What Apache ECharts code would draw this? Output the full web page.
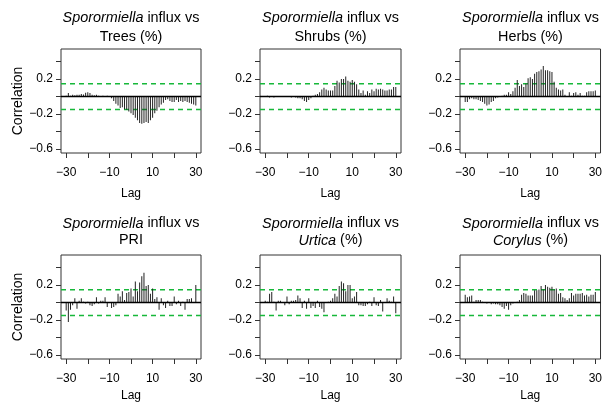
<!DOCTYPE html>
<html>
<head>
<meta charset="utf-8">
<script src="https://cdn.jsdelivr.net/npm/echarts@6/dist/echarts.min.js"></script>
<style>html,body{margin:0;padding:0;background:#fff}#c{width:605px;height:403px}</style>
</head>
<body>
<div id="c"></div>
<script>
const lags = [-30,-29,-28,-27,-26,-25,-24,-23,-22,-21,-20,-19,-18,-17,-16,-15,-14,-13,-12,-11,-10,-9,-8,-7,-6,-5,-4,-3,-2,-1,0,1,2,3,4,5,6,7,8,9,10,11,12,13,14,15,16,17,18,19,20,21,22,23,24,25,26,27,28,29,30];

const trees = [0.01,0.04,0.01,0.02,0.015,0.02,0.02,0.03,0.025,0.045,0.05,0.04,0.02,0.015,0.02,0.01,0.005,0.01,0.005,0.01,0.005,
  -0.02,-0.05,-0.08,-0.10,-0.13,-0.12,-0.145,-0.15,-0.17,-0.19,-0.21,-0.24,-0.27,-0.30,-0.31,-0.30,-0.29,-0.30,-0.27,-0.24,
  -0.19,-0.16,-0.12,-0.09,-0.07,-0.04,-0.03,-0.05,-0.06,-0.06,-0.04,-0.06,-0.05,-0.06,-0.05,-0.06,-0.07,-0.08,-0.09,-0.10];

const shrubs = [0.005,0.01,-0.01,0.005,-0.01,-0.005,0.0,0.005,-0.005,0.0,0.005,0.0,-0.01,0.0,-0.01,-0.02,-0.02,-0.03,-0.05,-0.06,-0.04,
  -0.02,0.01,0.02,0.03,0.05,0.08,0.10,0.08,0.07,0.07,0.07,0.12,0.18,0.16,0.20,0.20,0.23,0.18,0.17,0.19,
  0.17,0.14,0.08,0.04,0.07,0.02,0.06,0.04,0.08,0.06,0.09,0.08,0.09,0.08,0.07,0.07,0.08,0.08,0.11,0.11];

const herbs = [-0.06,-0.06,-0.03,-0.02,-0.03,-0.03,-0.04,-0.05,-0.06,-0.08,-0.10,-0.09,-0.06,-0.05,-0.02,-0.01,0.005,0.01,0.02,0.02,0.05,
  0.03,0.06,0.10,0.19,0.12,0.14,0.11,0.15,0.21,0.22,0.20,0.26,0.28,0.29,0.31,0.35,0.30,0.30,0.29,0.28,
  0.17,0.10,0.08,0.07,0.08,0.02,0.0,0.05,0.01,0.04,0.05,0.02,0.04,0.01,0.01,0.05,0.06,0.06,0.06,0.07];

const pri = [-0.09,-0.22,-0.08,-0.03,0.05,-0.07,0.02,0.05,0.01,-0.01,0.01,-0.03,-0.04,-0.02,0.06,-0.01,0.02,0.02,0.06,-0.05,0.0,
  -0.06,-0.05,-0.03,0.10,0.07,0.13,0.03,0.11,0.12,0.16,0.07,0.24,0.13,0.23,0.30,0.34,0.19,0.20,0.10,0.16,
  0.04,0.06,-0.08,0.05,-0.03,-0.06,0.02,-0.04,-0.04,0.07,-0.02,0.02,-0.04,0.01,-0.08,0.04,0.04,0.05,0.0,0.20];

const urtica = [0.02,0.01,0.10,0.12,0.01,-0.09,0.02,0.02,0.0,-0.03,0.07,-0.02,0.02,0.02,0.03,0.08,0.05,-0.06,0.02,-0.07,0.05,
  -0.06,-0.04,-0.06,0.02,-0.05,-0.07,-0.11,0.0,0.01,0.02,0.05,0.10,0.07,0.19,0.24,0.22,0.13,0.20,0.20,0.05,
  0.07,0.12,-0.03,-0.03,-0.04,-0.04,-0.02,0.01,-0.04,0.06,-0.03,-0.04,0.03,-0.10,0.0,0.05,0.02,0.01,0.07,-0.12];

const corylus = [0.09,0.06,0.07,0.08,0.01,0.03,0.03,0.03,0.01,0.0,-0.01,0.0,-0.02,-0.01,-0.02,-0.02,-0.03,-0.05,-0.07,-0.04,-0.08,
  -0.03,-0.01,0.0,0.01,0.03,0.09,0.11,0.10,0.08,0.08,0.08,0.14,0.14,0.15,0.19,0.15,0.20,0.18,0.17,0.18,
  0.15,0.16,0.10,0.11,0.06,0.05,0.03,0.05,0.11,0.08,0.10,0.10,0.10,0.11,0.08,0.09,0.07,0.09,0.09,0.12];

const ciLimit = 0.147;
const xTicks = [-30,-20,-10,0,10,20,30];
const xLabels = [-30,-10,10,30];
const yTicks = [-0.6,-0.4,-0.2,0,0.2,0.4];
const yLabels = [-0.6,-0.2,0.2];

const panels = [
  {data: trees,   line2: 'Trees (%)'},
  {data: shrubs,  line2: 'Shrubs (%)'},
  {data: herbs,   line2: 'Herbs (%)'},
  {data: pri,     line2: 'PRI'},
  {data: urtica,  line2: '{i|Urtica} (%)'},
  {data: corylus, line2: '{i|Corylus} (%)'}
];

const colLeft = [61, 260, 460];
const colWidth = [140, 141, 141];
const rowTop = [49, 255];
const gridH = 104;
const titleY = [[18.3, 37.3], [223.5, 240.5]];
const lagGap = [35, 31];
const xMin = -32.4, xMax = 32.4;

const fontFamily = 'Liberation Sans, Arial, sans-serif';
const minus = v => String(v).replace('-', '\u2212');

const grids = [], xAxes = [], yAxes = [], series = [], graphics = [];
panels.forEach((p, i) => {
  const r = Math.floor(i / 3), c = i % 3;
  grids.push({left: colLeft[c], top: rowTop[r], width: colWidth[c], height: gridH,
    show: true, borderColor: '#333', borderWidth: 1, backgroundColor: 'transparent'});
  xAxes.push({type: 'value', gridIndex: i, min: xMin, max: xMax, position: 'bottom',
    axisLine: {show: false, onZero: false},
    splitLine: {show: false},
    axisTick: {show: true, customValues: xTicks, length: 5, inside: false, lineStyle: {color: '#333'}},
    axisLabel: {show: true, customValues: xLabels, formatter: minus, margin: 14,
      fontSize: 12, color: '#000', fontFamily: fontFamily},
    name: 'Lag', nameLocation: 'middle', nameGap: lagGap[r],
    nameTextStyle: {fontSize: 12, color: '#000', fontFamily: fontFamily}
  });
  yAxes.push({type: 'value', gridIndex: i, min: -0.644, max: 0.544, position: 'left',
    axisLine: {show: false, onZero: false},
    splitLine: {show: false},
    axisTick: {show: true, customValues: yTicks, length: 5, inside: false, lineStyle: {color: '#333'}},
    axisLabel: {show: true, customValues: yLabels, formatter: minus, margin: 8,
      fontSize: 12, color: '#000', fontFamily: fontFamily},
    name: c === 0 ? 'Correlation' : '', nameLocation: 'middle', nameGap: 36,
    nameTextStyle: {fontSize: 14, color: '#000', fontFamily: fontFamily}
  });
  [ciLimit, -ciLimit].forEach(v => {
    series.push({type: 'line', xAxisIndex: i, yAxisIndex: i, silent: true, animation: false,
      symbol: 'none', data: [[xMin, v], [xMax, v]], z: 1,
      lineStyle: {color: '#17b83a', width: 1.6, type: [5, 4]}});
  });
  series.push({type: 'bar', xAxisIndex: i, yAxisIndex: i, barWidth: 1,
    data: lags.map((l, k) => [l, p.data[k]]),
    itemStyle: {color: '#222'},
    silent: true, animation: false, z: 2,
    markLine: {silent: true, symbol: 'none', animation: false, label: {show: false},
      lineStyle: {color: '#000', width: 1.3, type: 'solid'},
      data: [{yAxis: 0}]}
  });
  const cx = colLeft[c] + colWidth[c] / 2;
  graphics.push({type: 'text', x: cx, y: titleY[r][0], style: {
    text: '{i|Sporormiella} influx vs', align: 'center', verticalAlign: 'middle',
    fontSize: 14.4, fontFamily: fontFamily, fill: '#000',
    rich: {i: {fontStyle: 'italic', fontSize: 14.4, fontFamily: fontFamily}}}});
  graphics.push({type: 'text', x: cx, y: titleY[r][1], style: {
    text: p.line2, align: 'center', verticalAlign: 'middle',
    fontSize: 14.4, fontFamily: fontFamily, fill: '#000',
    rich: {i: {fontStyle: 'italic', fontSize: 14.4, fontFamily: fontFamily}}}});
});

const chart = echarts.init(document.getElementById('c'), null, {renderer: 'canvas'});
chart.setOption({
  animation: false,
  backgroundColor: '#fff',
  grid: grids, xAxis: xAxes, yAxis: yAxes, series: series, graphic: graphics
});
</script>
</body>
</html>
